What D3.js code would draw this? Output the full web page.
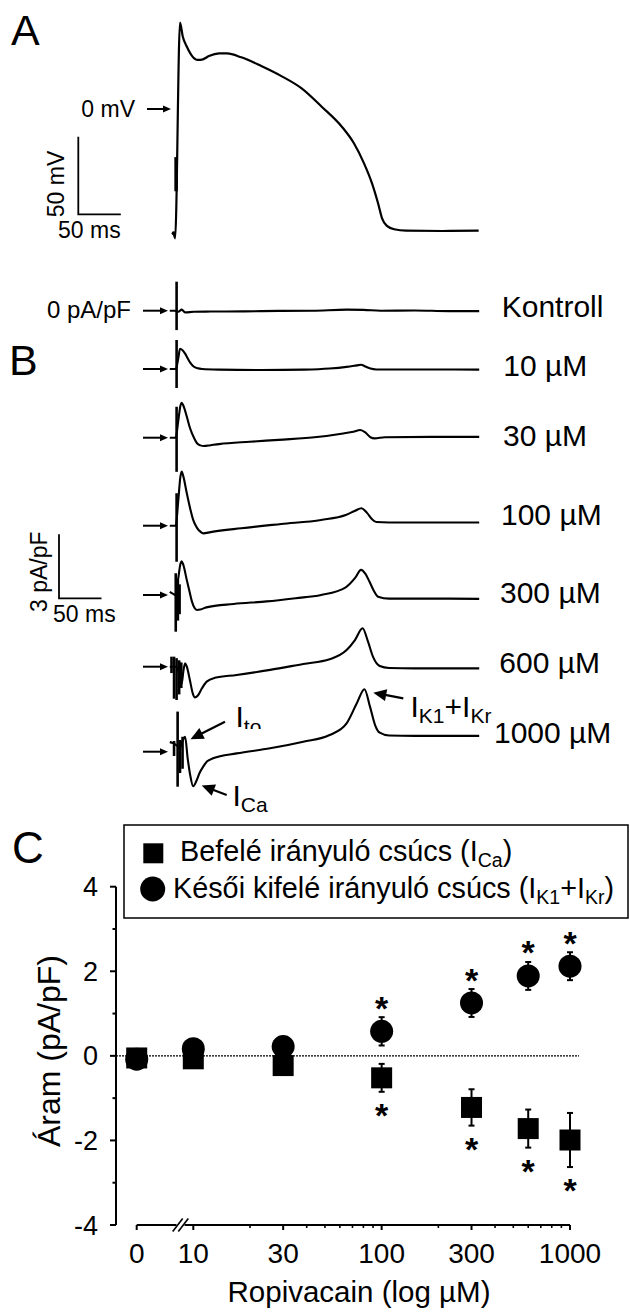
<!DOCTYPE html>
<html><head><meta charset="utf-8">
<script src="https://cdn.jsdelivr.net/npm/d3@7"></script>
<style>
body{margin:0;background:#fff}
svg{display:block}
text{font-family:"Liberation Sans",Arial,Helvetica,sans-serif;fill:#000}
</style>
</head><body>
<svg id="fig" width="630" height="1313"></svg>
<script>
// ---------------- DATA ----------------
// Panel A: action potential [time ms, voltage mV]
const apTrace = [[-3.5,-80],[-1.7,-83.3],[4.0,55.6],[7.3,46.6],[12.1,40.1],[18.3,34.1],[24.9,31.6],[31,32],[38.1,34.1],[50,35.8],[59.4,35.8],[76.1,33.3],[99.6,27.7],[123.3,21.2],[147.1,13.3],[170.7,1.5],[194.4,-11.4],[208.6,-22.1],[220.5,-35],[229.9,-47.9],[237,-60.7],[241.7,-70.4],[247.4,-75.3],[256,-77.5],[270.2,-78.4],[312.9,-78.6],[355.4,-78.4]];
const apArtifact = [[-0.6,-53,-31]]; // [time, low mV, high mV]

// Panel B: membrane currents [time ms, current pA/pF]
const traceKontroll = [[-8,0],[-2,0],[2,-0.05],[6,0.05],[10,-0.08],[20,-0.05],[40,-0.04],[80,-0.03],[120,-0.01],[160,0],[200,0.05],[220,0.04],[240,0],[280,0.01],[320,-0.02],[356,-0.02]];
const trace10 = [[-8,0],[-1,0],[2,0.5],[4,0.95],[7,0.88],[10,0.72],[13,0.5],[16,0.3],[20,0.12],[25,0.03],[30,0],[50,-0.03],[100,-0.05],[150,-0.03],[180,0.02],[200,0.1],[212,0.17],[217,0.2],[222,0.12],[228,0.02],[235,-0.02],[280,-0.02],[356,-0.03]];
const trace30 = [[-8,0],[-1,0],[2,0.8],[4.5,1.5],[6,1.64],[8,1.5],[12,0.99],[15,0.55],[18,0.21],[21,-0.05],[24,-0.26],[28,-0.36],[32,-0.39],[40,-0.35],[50,-0.3],[86,-0.19],[120,-0.1],[165,0.03],[196,0.2],[208,0.28],[216,0.36],[222,0.25],[228,0.02],[233,-0.03],[245,0.02],[300,0.04],[356,0.04]];
const trace100 = [[-8,0],[-1,0],[2,1.2],[4.5,2.3],[6,2.54],[8,2.3],[12,1.52],[16,0.8],[19.5,0.27],[24,-0.1],[28,-0.28],[31.5,-0.36],[40,-0.3],[76,-0.12],[123,0.08],[170,0.27],[199,0.5],[210,0.7],[217.5,0.82],[224,0.6],[230,0.3],[235,0.17],[250,0.15],[300,0.15],[356,0.15]];
const trace300 = [[-8,0.15],[-4,0.05],[-1,0],[2,0.8],[4.5,1.45],[6,1.58],[8,1.4],[12,0.7],[15,0.2],[18,-0.3],[21,-0.6],[24,-0.7],[28,-0.68],[35,-0.58],[67,-0.42],[106,-0.3],[140,-0.15],[170,0],[199,0.36],[210,0.8],[217,1.18],[222,1.0],[227,0.62],[232,0.2],[237,-0.08],[250,-0.17],[300,-0.17],[356,-0.18]];
const trace600 = [[-8,0],[-1,0],[3,-0.3],[6,-0.8],[8,-0.2],[10,0.16],[12,0],[15.6,-0.62],[19,-1.25],[21.5,-1.44],[25,-1.35],[30,-1.0],[35.4,-0.7],[45,-0.52],[70.6,-0.39],[110,-0.15],[149,0.13],[180,0.35],[200,0.78],[209.8,1.25],[218.8,1.8],[225,1.2],[231,0.47],[239,0.03],[250,-0.06],[280,-0.08],[356,-0.08]];
const trace1000 = [[-8,0.45],[-4,0.4],[0,0.3],[4,0.2],[8,0.6],[10,0.7],[13,-0.3],[16,-1.1],[19.5,-1.62],[23,-1.4],[27,-1.0],[31.3,-0.7],[36,-0.45],[43,-0.31],[70.6,-0.08],[110,0.16],[149,0.47],[180,0.78],[200,1.33],[212,2.27],[221,2.93],[227.6,2.1],[233.5,1.25],[239,0.89],[250,0.76],[280,0.74],[356,0.74]];
const traceLabels = ["Kontroll","10 µM","30 µM","100 µM","300 µM","600 µM","1000 µM"];
const traces = [traceKontroll, trace10, trace30, trace100, trace300, trace600, trace1000];
// stimulus artifacts [time, low, high] (pA/pF)
const artifacts = [
  [[0,-0.91,1.36]],
  [[0,-0.89,1.36]],
  [[0,-1.6,1.45]],
  [[0,-1.69,1.52]],
  [[-1,-1.72,1.02],[1.5,-1.2,0.7],[3.5,-0.9,0.5]],
  [[-6,-0.3,0.47],[-3,-1.5,0.47],[0,-1.56,0.4],[3,-1.3,0.3],[5.5,-1.0,0.2]],
  [[1.2,-1.64,1.88],[-3,-0.2,0.5],[4,-1.0,0.55],[7,-0.8,0.7]]
];

// Panel C: peak currents vs ropivacaine
const concentrations = [0,10,30,100,300,600,1000];
const inwardPeak = [-0.05,-0.07,-0.23,-0.52,-1.22,-1.72,-1.99];
const inwardSEM = [0.08,0.08,0.08,0.33,0.43,0.45,0.64];
const latePeak = [-0.08,0.17,0.22,0.58,1.25,1.89,2.12];
const lateSEM = [0.08,0.08,0.08,0.335,0.33,0.33,0.33];
const significant = [false,false,false,true,true,true,true];
const xTickValues = [0,10,30,100,300,1000];
const xTickLabels = ["0","10","30","100","300","1000"];
const xMinorValues = [20,40,50,60,70,80,90,200,400,500,600,700,800,900];
const yTickValues = [-4,-2,0,2,4];
const yMinorValues = [-3,-1,1,3];

// ---------------- DRAWING ----------------
const svg = d3.select("#fig");

function arrow(g, x1, y1, x2, y2, hl, hw, sw) {
  const dx = x2 - x1, dy = y2 - y1, L = Math.hypot(dx, dy), ux = dx / L, uy = dy / L;
  const bx = x2 - ux * hl, by = y2 - uy * hl;
  g.append("line").attr("x1", x1).attr("y1", y1).attr("x2", bx + ux).attr("y2", by + uy)
    .attr("stroke", "#000").attr("stroke-width", sw);
  g.append("path").attr("d", `M${x2},${y2}L${bx - uy * hw},${by + ux * hw}L${bx + uy * hw},${by - ux * hw}Z`)
    .attr("fill", "#000");
}
function richText(g, x, y, parts, size, subSize, subDy, anchor) {
  const t = g.append("text").attr("x", x).attr("y", y).attr("font-size", size)
    .attr("text-anchor", anchor || "start");
  let shifted = false;
  parts.forEach(([s, sub]) => {
    const ts = t.append("tspan").text(s);
    if (sub) { ts.attr("font-size", subSize); if (!shifted) { ts.attr("dy", subDy); shifted = true; } }
    else if (shifted) { ts.attr("dy", -subDy); shifted = false; }
  });
  return t;
}

// shared time scale (ms -> px)
const xT = d3.scaleLinear().domain([0, 50]).range([176.6, 219.1]);

// ===== Panel A =====
const gA = svg.append("g");
const yA = d3.scaleLinear().domain([0, 50]).range([109, 31.4]);
gA.append("text").attr("x", 11).attr("y", 45).attr("font-size", 43).text("A");
gA.append("path").datum(apTrace)
  .attr("d", d3.line().x(d => xT(d[0])).y(d => yA(d[1])).curve(d3.curveMonotoneX))
  .attr("fill", "none").attr("stroke", "#000").attr("stroke-width", 2.2).attr("stroke-linejoin", "round");
apArtifact.forEach(a => gA.append("line").attr("x1", xT(a[0])).attr("x2", xT(a[0]))
  .attr("y1", yA(a[1])).attr("y2", yA(a[2])).attr("stroke", "#000").attr("stroke-width", 3.5));
gA.append("circle").attr("cx", xT(apTrace[0][0])).attr("cy", yA(apTrace[0][1])).attr("r", 2);
gA.append("text").attr("x", 135).attr("y", 117).attr("font-size", 23).attr("text-anchor", "end").text("0 mV");
arrow(gA, 147, yA(0), 171, yA(0), 8, 3.5, 2);
// scale bar
const sbAx = 78.3, sbAy = 214.3;
gA.append("path").attr("d", `M${sbAx},${sbAy - (yA(0) - yA(50))}V${sbAy}H${sbAx + (xT(50) - xT(0))}`)
  .attr("fill", "none").attr("stroke", "#000").attr("stroke-width", 1.8);
gA.append("text").attr("transform", `translate(63.5,184) rotate(-90)`).attr("text-anchor", "middle")
  .attr("font-size", 23).text("50 mV");
gA.append("text").attr("x", 58).attr("y", 237.5).attr("font-size", 23).text("50 ms");

// ===== Panel B =====
const gB = svg.append("g");
const traceOffsets = [310.7, 369, 437.7, 525.7, 595, 666.7, 751.7];
const labelBaselines = [316.7, 376, 446, 525, 603.3, 673.3, 743.3];
const labelX = [501.7, 503.3, 503, 501, 500, 499.3, 494];
const yBunit = d3.scaleLinear().domain([0, 3]).range([0, -64]);
gB.append("text").attr("x", 9).attr("y", 375).attr("font-size", 43).text("B");
traces.forEach((tr, i) => {
  const off = traceOffsets[i];
  const yB = v => off + yBunit(v);
  gB.append("path").datum(tr)
    .attr("d", d3.line().x(d => xT(d[0])).y(d => yB(d[1])).curve(d3.curveMonotoneX))
    .attr("fill", "none").attr("stroke", "#000").attr("stroke-width", 2.1).attr("stroke-linejoin", "round");
  artifacts[i].forEach(a => gB.append("line").attr("x1", xT(a[0])).attr("x2", xT(a[0]))
    .attr("y1", yB(a[1])).attr("y2", yB(a[2])).attr("stroke", "#000").attr("stroke-width", 2.6));
  arrow(gB, 143, off, 168, off, 8, 3.5, 2);
  gB.append("text").attr("x", labelX[i]).attr("y", labelBaselines[i]).attr("font-size", 30).text(traceLabels[i]);
});
gB.append("text").attr("x", 131).attr("y", 317.5).attr("font-size", 24).attr("text-anchor", "end").text("0 pA/pF");
// scale bar B
const sbBx = 59, sbBy = 598.3;
gB.append("path").attr("d", `M${sbBx},${sbBy + yBunit(3)}V${sbBy}H${sbBx + (xT(50) - xT(0))}`)
  .attr("fill", "none").attr("stroke", "#000").attr("stroke-width", 1.8);
gB.append("text").attr("transform", `translate(46.5,571.7) rotate(-90)`).attr("text-anchor", "middle")
  .attr("font-size", 23).text("3 pA/pF");
gB.append("text").attr("x", 53).attr("y", 622).attr("font-size", 23).text("50 ms");
// annotations
const defs = svg.append("defs");
defs.append("clipPath").attr("id", "itoClip").append("rect").attr("x", 220).attr("y", 690).attr("width", 80).attr("height", 39);
const ito = richText(gB, 235.5, 727, [["I", false], ["to", true]], 30, 21, 7);
ito.attr("clip-path", "url(#itoClip)");
arrow(gB, 225, 721.7, 190.5, 739.3, 13, 6, 2.2);
richText(gB, 232.5, 806, [["I", false], ["Ca", true]], 30, 21, 6);
arrow(gB, 226.7, 795, 201.7, 785.5, 13, 6, 2.2);
richText(gB, 410.5, 716.7, [["I", false], ["K1", true], ["+I", false], ["Kr", true]], 30, 21, 6);
arrow(gB, 403.3, 698.3, 373.3, 692.7, 13, 6, 2.2);

// ===== Panel C =====
const gC = svg.append("g");
const yC = d3.scaleLinear().domain([-4, 4]).range([1225, 886.7]);
const xLog = d3.scaleLog().domain([10, 1000]).range([193.3, 570]);
const zeroX = 136.7;
const xC = c => c === 0 ? zeroX : xLog(c);
gC.append("text").attr("x", 12).attr("y", 863).attr("font-size", 44).text("C");

// y axis
const axisX = 116;
gC.append("line").attr("x1", axisX).attr("x2", axisX).attr("y1", yC(-4)).attr("y2", yC(4))
  .attr("stroke", "#000").attr("stroke-width", 2);
yTickValues.forEach(v => {
  gC.append("line").attr("x1", axisX - 6).attr("x2", axisX).attr("y1", yC(v)).attr("y2", yC(v))
    .attr("stroke", "#000").attr("stroke-width", 2);
  gC.append("text").attr("x", 98).attr("y", yC(v) + 9.5).attr("font-size", 27).attr("text-anchor", "end").text(v);
});
yMinorValues.forEach(v => gC.append("line").attr("x1", axisX - 3.5).attr("x2", axisX)
  .attr("y1", yC(v)).attr("y2", yC(v)).attr("stroke", "#000").attr("stroke-width", 2));
gC.append("text").attr("transform", `translate(60,1051) rotate(-90)`).attr("text-anchor", "middle")
  .attr("font-size", 32).text("Áram (pA/pF)");

// x axis (broken)
const axisY = yC(-4);
gC.append("line").attr("x1", zeroX).attr("x2", 176.5).attr("y1", axisY).attr("y2", axisY)
  .attr("stroke", "#000").attr("stroke-width", 2);
gC.append("line").attr("x1", 184.5).attr("x2", xLog(1000)).attr("y1", axisY).attr("y2", axisY)
  .attr("stroke", "#000").attr("stroke-width", 2);
[[172.7, 182.7], [178.3, 188.3]].forEach(b => gC.append("line")
  .attr("x1", b[0]).attr("y1", axisY + 6.5).attr("x2", b[1]).attr("y2", axisY - 6.5)
  .attr("stroke", "#000").attr("stroke-width", 1.6));
xTickValues.forEach((v, i) => {
  gC.append("line").attr("x1", xC(v)).attr("x2", xC(v)).attr("y1", axisY).attr("y2", axisY + 5)
    .attr("stroke", "#000").attr("stroke-width", 2);
  gC.append("text").attr("x", xC(v)).attr("y", 1263).attr("font-size", 28).attr("text-anchor", "middle")
    .text(xTickLabels[i]);
});
xMinorValues.forEach(v => gC.append("line").attr("x1", xLog(v)).attr("x2", xLog(v))
  .attr("y1", axisY).attr("y2", axisY + 3).attr("stroke", "#000").attr("stroke-width", 1.6));
gC.append("text").attr("x", 359).attr("y", 1302).attr("font-size", 29.5).attr("text-anchor", "middle")
  .text("Ropivacain (log µM)");

// zero line
gC.append("line").attr("x1", axisX).attr("x2", 579).attr("y1", yC(0)).attr("y2", yC(0))
  .attr("stroke", "#000").attr("stroke-width", 1.1).attr("stroke-dasharray", "2,1");

// error bars
function errBar(x, y0, y1) {
  gC.append("line").attr("x1", x).attr("x2", x).attr("y1", y0).attr("y2", y1).attr("stroke", "#000").attr("stroke-width", 2);
  [y0, y1].forEach(y => gC.append("line").attr("x1", x - 3).attr("x2", x + 3).attr("y1", y).attr("y2", y)
    .attr("stroke", "#000").attr("stroke-width", 2));
}
concentrations.forEach((c, i) => {
  errBar(xC(c), yC(latePeak[i] + lateSEM[i]), yC(latePeak[i] - lateSEM[i]));
  errBar(xC(c), yC(inwardPeak[i] + inwardSEM[i]), yC(inwardPeak[i] - inwardSEM[i]));
});
concentrations.forEach((c, i) => {
  gC.append("circle").attr("cx", xC(c)).attr("cy", yC(latePeak[i])).attr("r", 11.5).attr("fill", "#000");
});
concentrations.forEach((c, i) => {
  gC.append("rect").attr("x", xC(c) - 10.5).attr("y", yC(inwardPeak[i]) - 10.5)
    .attr("width", 21).attr("height", 21).attr("fill", "#000");
});
// significance stars
concentrations.forEach((c, i) => {
  if (!significant[i]) return;
  const upC = yC(latePeak[i] + lateSEM[i]) - 15.5;
  const dnC = yC(inwardPeak[i] - inwardSEM[i]) + 17;
  [upC, dnC].forEach(cy => gC.append("text").attr("x", xC(c)).attr("y", cy + 18)
    .attr("font-size", 34).attr("font-weight", "bold").attr("text-anchor", "middle").text("*"));
});

// legend
gC.append("rect").attr("x", 124).attr("y", 825).attr("width", 504).attr("height", 93)
  .attr("fill", "#fff").attr("stroke", "#000").attr("stroke-width", 1.5);
gC.append("rect").attr("x", 143.3).attr("y", 843.3).attr("width", 20).attr("height", 20).attr("fill", "#000");
gC.append("circle").attr("cx", 152.7).attr("cy", 889).attr("r", 12.5).attr("fill", "#000");
richText(gC, 180, 861, [["Befelé irányuló csúcs (I", false], ["Ca", true], [")", false]], 28.8, 19.5, 6);
richText(gC, 173, 897.5, [["Késői kifelé irányuló csúcs (I", false], ["K1", true], ["+I", false], ["Kr", true], [")", false]], 28.8, 19.5, 6);
</script>
</body></html>
